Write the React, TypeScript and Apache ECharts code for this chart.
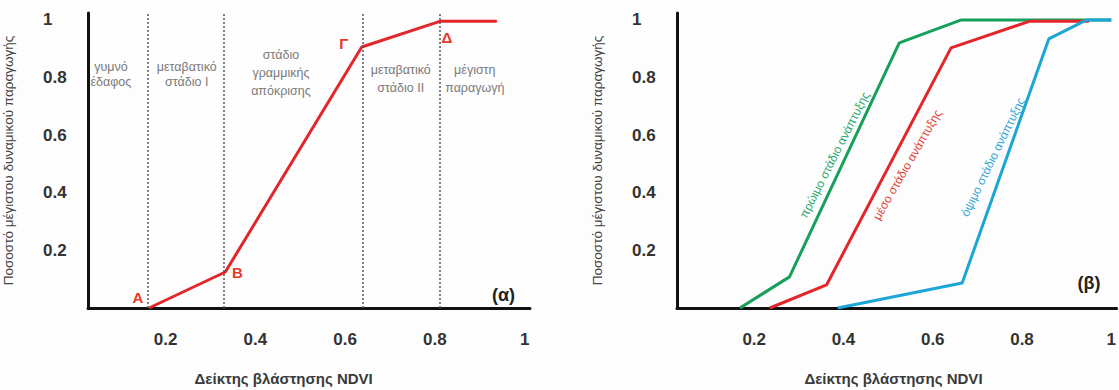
import React, { useEffect, useRef } from "react";
import * as echarts from "echarts";

// ---------- data ----------
const xTicks = [0.2, 0.4, 0.6, 0.8, 1];
const yTicks = [0.2, 0.4, 0.6, 0.8, 1];

// panel (α)
const stageBounds = [0.163, 0.333, 0.637, 0.811];
const responseCurve: [number, number][] = [
  [0.163, 0],
  [0.333, 0.125],
  [0.637, 0.906],
  [0.811, 0.995],
  [0.938, 0.995],
];
const pointLetters = ["Α", "Β", "Γ", "Δ", ""];
const stageNames = [
  "γυμνό\nέδαφος",
  "μεταβατικό\nστάδιο I",
  "στάδιο\nγραμμικής\nαπόκρισης",
  "μεταβατικό\nστάδιο II",
  "μέγιστη\nπαραγωγή",
];

// panel (β)
const earlyCurve: [number, number][] = [
  [0.168, 0],
  [0.279, 0.108],
  [0.525, 0.92],
  [0.664, 1.0],
  [1.0, 1.0],
];
const midCurve: [number, number][] = [
  [0.235, 0],
  [0.362, 0.08],
  [0.641, 0.903],
  [0.816, 0.995],
  [0.95, 0.995],
];
const lateCurve: [number, number][] = [
  [0.387, 0],
  [0.666, 0.087],
  [0.86, 0.934],
  [0.945, 1.0],
  [1.0, 1.0],
];
const curveNames = [
  "πρώιμο στάδιο ανάπτυξης",
  "μέσο στάδιο ανάπτυξης",
  "όψιμο στάδιο ανάπτυξης",
];

const yTitle = "Ποσοστό μέγιστου δυναμικού παραγωγής";
const xTitle = "Δείκτης βλάστησης NDVI";
const panelTags = ["(α)", "(β)"];

// ---------- layout / style ----------
const FONT = 'Arial, "Liberation Sans", sans-serif';
const RED = "#e3262a";
const GREEN = "#17a05a";
const BLUE = "#1ba6d6";
const letterOffsets = [
  [-11, -11],
  [12, 1],
  [-18, -3],
  [7, 16],
  [0, 0],
];
// label anchor positions in data coordinates
const stageLabelPos = [
  [0.078, 0.81],
  [0.247, 0.81],
  [0.457, 0.816],
  [0.724, 0.795],
  [0.889, 0.795],
];
const stageLineHeights = [15, 15, 18, 18, 18];
const curveLabelPos = [
  [0.38, 0.531, 63],
  [0.543, 0.497, 60],
  [0.735, 0.524, 64],
];
const curveLabelColors = ["#2ba86a", "#e0463a", "#35a7d6"];
const tagPos = [
  [0.953, 0.045],
  [0.95, 0.087],
];
// x-axis title centres (data x, in panel units) and baseline pixel row
const xTitlePos = [0.463, 0.512];

const X_MIN = 0.027;
const X_MAX = 1.012;
const Y_MAX = 1.024;

function makeXAxis(gridIndex: number) {
  return {
    type: "value",
    gridIndex,
    min: X_MIN,
    max: X_MAX,
    axisLine: { show: true, onZero: false, lineStyle: { color: "#111", width: 3 } },
    axisTick: { show: false },
    splitLine: { show: false },
    axisLabel: {
      customValues: xTicks,
      margin: 23,
      fontFamily: FONT,
      fontSize: 17,
      fontWeight: "bold",
      color: "#333",
      formatter: (v: number) => (v === 1 ? "1" : v.toFixed(1)),
    },
  };
}

function makeYAxis(gridIndex: number) {
  return {
    type: "value",
    gridIndex,
    min: 0,
    max: Y_MAX,
    name: yTitle,
    nameLocation: "middle",
    nameRotate: 90,
    nameGap: 73,
    nameTextStyle: { fontFamily: FONT, fontSize: 13.5, color: "#444" },
    axisLine: { show: true, onZero: false, lineStyle: { color: "#111", width: 3 } },
    axisTick: { show: false },
    splitLine: { show: false },
    axisLabel: {
      customValues: yTicks,
      align: "left",
      margin: 45,
      fontFamily: FONT,
      fontSize: 17,
      fontWeight: "bold",
      color: "#333",
      formatter: (v: number) => (v === 1 ? "1" : v.toFixed(1)),
    },
  };
}

export default function App() {
  const ref = useRef<HTMLDivElement>(null);

  useEffect(() => {
    if (!ref.current) return;
    const chart = echarts.init(ref.current, undefined, { renderer: "svg" });

    const lineBase = {
      type: "line",
      smooth: false,
      showSymbol: false,
      symbol: "none",
      silent: true,
      z: 3,
    };

    const option: any = {
      animation: false,
      backgroundColor: "#fdfdfd",
      grid: [
        { left: 88, top: 13, width: 442, height: 295 },
        { left: 677, top: 13, width: 442, height: 295 },
      ],
      xAxis: [makeXAxis(0), makeXAxis(1)],
      yAxis: [makeYAxis(0), makeYAxis(1)],
      series: [
        {
          ...lineBase,
          xAxisIndex: 0,
          yAxisIndex: 0,
          symbol: "circle",
          showSymbol: true,
          symbolSize: 1,
          itemStyle: { color: RED },
          lineStyle: { color: RED, width: 3 },
          label: {
            show: true,
            position: "inside",
            fontFamily: FONT,
            fontSize: 15,
            fontWeight: "bold",
            color: "#e5392b",
          },
          data: responseCurve.map((p, i) => ({
            value: p,
            label: {
              show: pointLetters[i] !== "",
              formatter: pointLetters[i],
              offset: letterOffsets[i],
            },
          })),
          markLine: {
            silent: true,
            symbol: "none",
            label: { show: false },
            lineStyle: { type: [2, 2], color: "#555", width: 1.5 },
            data: stageBounds.map((x) => ({ xAxis: x })),
          },
        },
        {
          ...lineBase,
          xAxisIndex: 1,
          yAxisIndex: 1,
          lineStyle: { color: GREEN, width: 3 },
          data: earlyCurve,
        },
        {
          ...lineBase,
          xAxisIndex: 1,
          yAxisIndex: 1,
          lineStyle: { color: RED, width: 3 },
          data: midCurve,
        },
        {
          ...lineBase,
          xAxisIndex: 1,
          yAxisIndex: 1,
          lineStyle: { color: BLUE, width: 3 },
          data: lateCurve,
        },
      ],
    };
    chart.setOption(option);

    const px = (g: number, p: number[]) =>
      chart.convertToPixel({ gridIndex: g } as any, [p[0], p[1]]) as number[];

    const graphics: any[] = [];
    stageNames.forEach((t, i) => {
      const [x, y] = px(0, stageLabelPos[i]);
      graphics.push({
        type: "text",
        x,
        y,
        silent: true,
        style: {
          text: t,
          align: "center",
          verticalAlign: "middle",
          fontFamily: FONT,
          fontSize: 12.5,
          lineHeight: stageLineHeights[i],
          fill: "#7a7a7a",
        },
      });
    });
    curveNames.forEach((t, i) => {
      const [x, y] = px(1, curveLabelPos[i]);
      graphics.push({
        type: "text",
        x,
        y,
        rotation: (curveLabelPos[i][2] * Math.PI) / 180,
        silent: true,
        style: {
          text: t,
          align: "center",
          verticalAlign: "middle",
          fontFamily: FONT,
          fontSize: 12,
          fill: curveLabelColors[i],
        },
      });
    });
    panelTags.forEach((t, i) => {
      const [x, y] = px(i, tagPos[i]);
      graphics.push({
        type: "text",
        x,
        y,
        silent: true,
        style: {
          text: t,
          align: "center",
          verticalAlign: "middle",
          fontFamily: FONT,
          fontSize: 18,
          fontWeight: "bold",
          fill: "#222",
        },
      });
    });
    xTitlePos.forEach((xv, i) => {
      const [x] = px(i, [xv, 0]);
      graphics.push({
        type: "text",
        x,
        y: 378,
        silent: true,
        style: {
          text: xTitle,
          align: "center",
          verticalAlign: "middle",
          fontFamily: FONT,
          fontSize: 15,
          fontWeight: "bold",
          fill: "#3a3a3a",
        },
      });
    });
    chart.setOption({ graphic: graphics });

    return () => chart.dispose();
  }, []);

  return (
    <div
      ref={ref}
      style={{ position: "fixed", left: 0, top: 0, width: 1119, height: 390, background: "#fdfdfd" }}
    />
  );
}
